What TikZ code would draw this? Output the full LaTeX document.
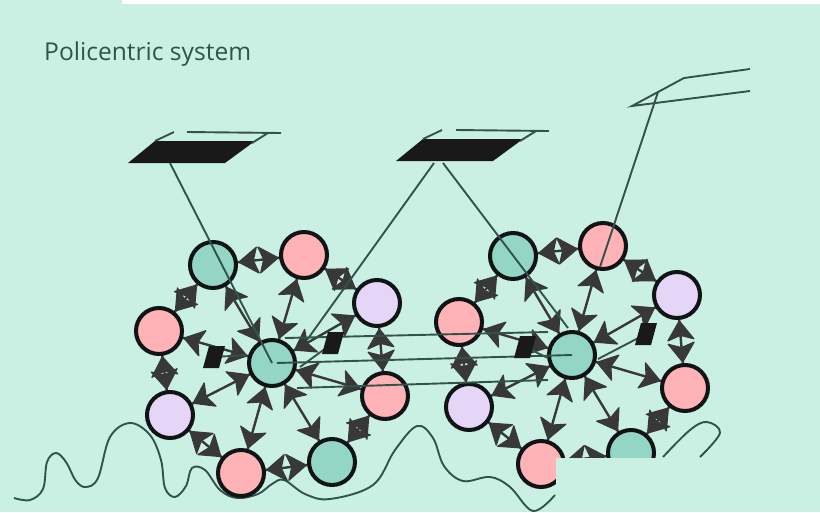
\documentclass[tikz,border=0pt]{standalone}
\usepackage{fontspec}
\setmainfont{Open Sans}
\usetikzlibrary{calc,backgrounds}
\definecolor{bgc}{HTML}{CAF0E4}
\definecolor{grn}{HTML}{93D6C6}
\definecolor{pnk}{HTML}{FFB3B6}
\definecolor{lil}{HTML}{E5D6F7}
\definecolor{ink}{HTML}{111414}
\definecolor{arr}{HTML}{383838}
\definecolor{thin}{HTML}{33524C}
\tikzset{
  x=1pt,y=-1pt,
  hub/.style={circle,draw=ink,line width=4pt,minimum size=46pt,inner sep=0pt,outer sep=0pt},
  gnode/.style={hub,fill=grn},
  pnode/.style={hub,fill=pnk},
  lnode/.style={hub,fill=lil},
  link/.style={draw=arr,line width=2.4pt},
  tiphead/.style={fill=arr,draw=arr,line width=1.2pt,line join=round},
  wire/.style={draw=thin,line width=1.9pt},
  slab/.style={fill=black!90,draw=none},
  wave/.style={draw=thin,line width=1.9pt}
}
% arrowhead touching the border of node #1, pointing at it, on the line to node #2
\newcommand\headon[2]{%
  \path[tiphead] ($(#1)!26pt!(#2)$) -- ($(#1)!45pt!(#2)!13pt!90:(#2)$) -- ($(#1)!40.5pt!(#2)$) -- ($(#1)!45pt!(#2)!13pt!-90:(#2)$) -- cycle;}
\begin{document}
\begin{tikzpicture}
\useasboundingbox (0,0) rectangle (820,512);
% left cluster
\node[gnode] (C1) at (272,363) {};
\node[gnode] (G1) at (213,265) {};
\node[pnode] (P1) at (304,255) {};
\node[lnode] (L1) at (377,303) {};
\node[pnode] (P2) at (385,396) {};
\node[gnode] (G2) at (332,462) {};
\node[pnode] (P3) at (241,473) {};
\node[lnode] (L2) at (170,415) {};
\node[pnode] (P4) at (159,331) {};
% right cluster
\node[gnode] (C2) at (572,355) {};
\node[gnode] (G3) at (513,256) {};
\node[pnode] (P5) at (603,246) {};
\node[lnode] (L3) at (677,295) {};
\node[pnode] (P6) at (685,388) {};
\node[gnode] (G4) at (631,453) {};
\node[pnode] (P7) at (541,464) {};
\node[lnode] (L4) at (469,407) {};
\node[pnode] (P8) at (459,322) {};
\begin{pgfonlayer}{background}
  \fill[bgc] (0,0) rectangle (820,512);
  \fill[white] (122,0) rectangle (820,4);
  \draw[wave] plot[smooth,tension=0.6] coordinates {(14,498) (30,500) (43,489) (47,462) (56,453) (66,462) (76,481) (86,487) (98,478) (110,437) (130,423) (150,435) (161,460) (165,488) (175,497) (186,486) (192,468) (205,470) (220,490) (237,498) (258,494) (272,484) (284,480) (305,494) (330,499) (373,485) (395,450) (417,426) (433,438) (444,466) (463,481) (490,477) (510,487) (533,511) (555,495)};
  \draw[wave] plot[smooth,tension=0.6] coordinates {(663,457) (690,430) (707,422) (720,433) (700,457)};
  \foreach \a/\b in {G1/C1,P1/C1,L1/C1,P2/C1,G2/C1,P3/C1,L2/C1,P4/C1,P4/G1,G1/P1,P1/L1,L1/P2,P2/G2,G2/P3,P3/L2,L2/P4,
                     G3/C2,P5/C2,L3/C2,P6/C2,G4/C2,P7/C2,L4/C2,P8/C2,P8/G3,G3/P5,P5/L3,L3/P6,P6/G4,G4/P7,P7/L4,L4/P8}{
    \draw[link] (\a) -- (\b);
    \headon{\a}{\b}
    \headon{\b}{\a}
  }
\end{pgfonlayer}
% roofs
\coordinate (R1a) at (128,163); \coordinate (R1b) at (155,141); \coordinate (R1c) at (255,141); \coordinate (R1d) at (225,163);
\coordinate (R2a) at (396,161); \coordinate (R2b) at (423,139); \coordinate (R2c) at (523,139); \coordinate (R2d) at (493,161);
\fill[slab] (R1a) -- (R1b) -- (R1c) -- (R1d) -- cycle;
\fill[slab] (R2a) -- (R2b) -- (R2c) -- (R2d) -- cycle;
\coordinate (T1a) at (174,132); \coordinate (T1b) at (187,132); \coordinate (T1c) at (281,133); \coordinate (T1d) at (268,133);
\coordinate (T2a) at (442,130); \coordinate (T2b) at (456,130); \coordinate (T2c) at (549,131); \coordinate (T2d) at (536,131);
\draw[wire] (R1b) -- (T1a);
\draw[wire] (T1b) -- (T1c);
\draw[wire] (T1d) -- (252,143);
\draw[wire] (R2b) -- (T2a);
\draw[wire] (T2b) -- (T2c);
\draw[wire] (T2d) -- (520,141);
% open roof
\coordinate (R3a) at (632,106); \coordinate (R3m) at (658,92); \coordinate (R3b) at (684,78); \coordinate (R3c) at (750,69); \coordinate (R3d) at (750,91);
\draw[wire] (R3c) -- (R3b) -- (R3a) -- (R3d);
% small slabs
\coordinate (S1) at (214,357); \coordinate (S2) at (333,343); \coordinate (S3) at (525,347); \coordinate (S4) at (646,334);
% thin wires
\draw[wire] (170,163) -- (C1.center);
\draw[wire] (434,163) -- (307,340);
\draw[wire] (443,163) -- (568,328);
\draw[wire] (R3m) -- (600,267);
\draw[wire] (C2.center) -- (277,363);
\draw[wire] (548,332) -- (285,338);
\draw[wire] (548,380) -- (297,388);
\draw[wire] (S1) -- (247,355);
\draw[wire] (S2) -- (300,367);
\draw[wire] (S3) -- (548,358);
\draw[wire] (S4) -- (598,359);
\foreach \s in {S1,S2,S3,S4}
  \fill[slab] ([shift={(-11,11)}]\s) -- ([shift={(-5,-11)}]\s) -- ([shift={(11,-11)}]\s) -- ([shift={(5,11)}]\s) -- cycle;
% cover
\fill[bgc] (556,458) rectangle (820,512);
\node[anchor=base west,inner sep=0pt,text=thin,font=\fontsize{24.6pt}{28pt}\selectfont] (title) at (44,60) {Policentric system};
\end{tikzpicture}
\end{document}
